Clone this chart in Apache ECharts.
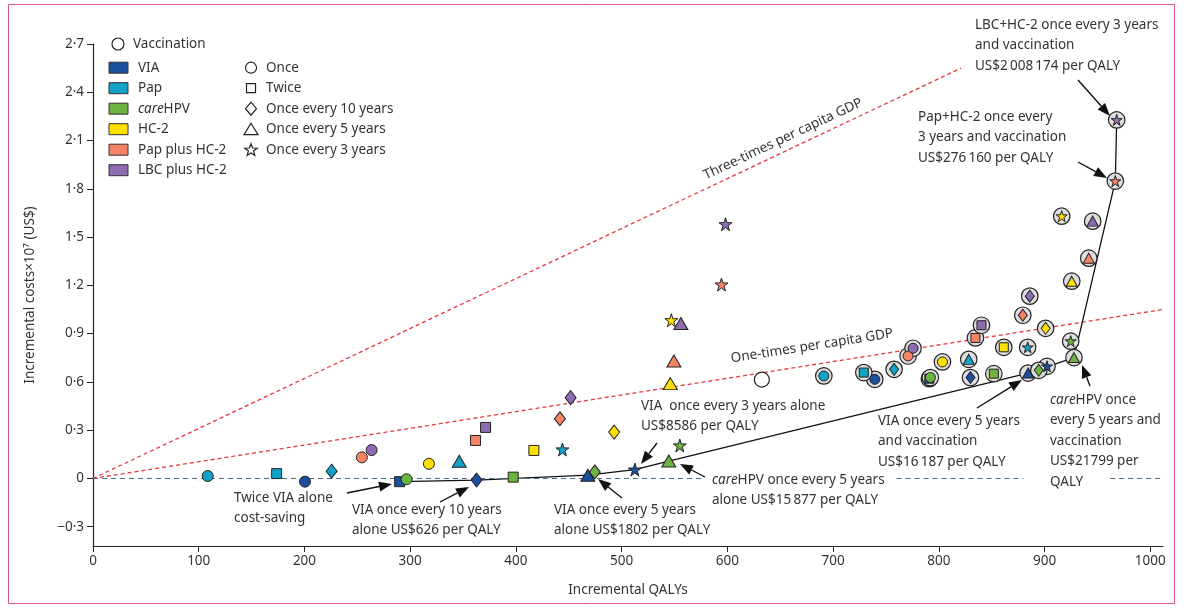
<!DOCTYPE html>
<html><head><meta charset="utf-8">
<script src="https://cdn.jsdelivr.net/npm/echarts@6/dist/echarts.min.js"></script>
<style>html,body{margin:0;padding:0;background:#fff}#c{width:1184px;height:608px}</style>
</head><body><div id="c"></div>
<script>
// ---------- data ----------
const strategies = ['VIA','Pap','careHPV','HC-2','Pap plus HC-2','LBC plus HC-2'];
const strategyColors = ['#1c4f9c','#12a2c8','#6cb33f','#ffe100','#f58466','#8e6cb0'];
const frequencies = ['Once','Twice','Once every 10 years','Once every 5 years','Once every 3 years'];
const xTicks = [0,100,200,300,400,500,600,700,800,900,1000];
const yTicks = [-0.3,0,0.3,0.6,0.9,1.2,1.5,1.8,2.1,2.4,2.7];

// screening alone: [incremental QALYs, incremental cost x10^7 US$], one per frequency
const viaAlone   = [[200.5,-0.02],[290,-0.02],[362.8,-0.01],[468,0.02],[512.5,0.055]];
const papAlone   = [[108.5,0.015],[173.7,0.03],[225.7,0.045],[346.4,0.107],[444,0.18]];
const careAlone  = [[296.6,-0.005],[397.4,0.008],[474.6,0.04],[544.6,0.108],[555,0.205]];
const hc2Alone   = [[317.7,0.091],[417,0.174],[492.9,0.288],[546,0.589],[547,0.983]];
const papHcAlone = [[254.3,0.131],[361.8,0.236],[441.6,0.371],[549.4,0.73],[594.4,1.205]];
const lbcAlone   = [[263.5,0.176],[371.3,0.317],[451.7,0.502],[556,0.963],[598.2,1.58]];

// screening plus vaccination
const viaVacc   = [[739.4,0.616],[791.0,0.620],[829.9,0.627],[884.4,0.655],[902.3,0.697]];
const papVacc   = [[691.2,0.637],[729,0.658],[757.7,0.678],[828.3,0.74],[884,0.815]];
const careVacc  = [[792,0.627],[852,0.651],[894.5,0.672],[927.8,0.751],[924.7,0.853]];
const hc2Vacc   = [[803.4,0.724],[861.4,0.815],[901,0.933],[925.7,1.226],[916.2,1.63]];
const papHcVacc = [[770.9,0.761],[834.6,0.873],[879.4,1.014],[941.8,1.369],[966.9,1.848]];
const lbcVacc   = [[775.6,0.809],[840.3,0.952],[886,1.133],[945.5,1.599],[968.2,2.228]];

const vaccinationAlone = [632.6,0.614];

// willingness-to-pay reference lines (end points)
const oneTimesGdp   = [[0,0],[1012,1.05]];
const threeTimesGdp = [[0,0],[821,2.55]];
// visible pieces of the dashed zero line (QALY ranges)
const zeroLineSegments = [[0,576],[760,880],[962,1012]];

// ---------- build ----------
const aloneSets = [viaAlone,papAlone,careAlone,hc2Alone,papHcAlone,lbcAlone];
const vaccSets  = [viaVacc,papVacc,careVacc,hc2Vacc,papHcVacc,lbcVacc];
const STAR = 'path://M50 2 L61.2 36.3 L97.6 36.3 L68.2 57.6 L79.4 91.9 L50 70.7 L20.6 91.9 L31.8 57.6 L2.4 36.3 L38.8 36.3 Z';
const freqSymbols = ['circle','rect','diamond','triangle',STAR];
const aloneSizes = [11,10,[11,14],[14,12],13];
const innerSizes = [10,9,[9,12],[11,10],11];
const frontier = [viaAlone[1],viaAlone[2],viaAlone[3],viaAlone[4],careAlone[3],viaVacc[3],careVacc[3],papHcVacc[4],lbcVacc[4]];

const FONT = 'Noto Sans';
const TXT = '#333';
const series = [];

series.push({type:'line', name:'One-times per capita GDP', data:oneTimesGdp, symbol:'none', silent:true, z:1,
  lineStyle:{color:'#e8383d', width:1.3, type:[4,3]},
  markLine:{silent:true, symbol:'none', label:{show:false},
    lineStyle:{color:'#4d6e8a', width:1, type:[5,4]},
    data: zeroLineSegments.map(s=>[{coord:[s[0],0]},{coord:[s[1],0]}])}});
series.push({type:'line', name:'Three-times per capita GDP', data:threeTimesGdp, symbol:'none', silent:true, z:1,
  lineStyle:{color:'#e8383d', width:1.3, type:[4,3]}});
series.push({type:'line', name:'Frontier', data:frontier, symbol:'none', silent:true, z:2,
  lineStyle:{color:'#111', width:1.3}});

strategies.forEach((s,k)=>{
  series.push({type:'scatter', name:s+' alone', z:5,
    itemStyle:{color:strategyColors[k], borderColor:'#222', borderWidth:1, opacity:1},
    data: aloneSets[k].map((p,i)=>({value:p, symbol:freqSymbols[i], symbolSize:aloneSizes[i]}))});
});
series.push({type:'scatter', name:'Vaccination rings', z:6, symbol:'circle', symbolSize:16.5,
  itemStyle:{color:'#dedede', borderColor:'#222', borderWidth:1.2, opacity:1},
  data: vaccSets.flat()});
strategies.forEach((s,k)=>{
  series.push({type:'scatter', name:s+' and vaccination', z:7,
    itemStyle:{color:strategyColors[k], borderColor:'#222', borderWidth:1, opacity:1},
    data: vaccSets[k].map((p,i)=>({value:p, symbol:freqSymbols[i], symbolSize:innerSizes[i]}))});
});
series.push({type:'scatter', name:'Vaccination', z:7, symbol:'circle', symbolSize:15,
  itemStyle:{color:'#fff', borderColor:'#222', borderWidth:1.2, opacity:1},
  data:[vaccinationAlone]});

// ---------- graphics ----------
const g = [];
g.push({type:'rect', shape:{x:8.5,y:4.5,width:1166,height:599}, style:{fill:'none', stroke:'#d4587f', lineWidth:1}, silent:true, z:0});

function text(x, yc, str, size, extra){
  const lh = 20.5;
  g.push(Object.assign({type:'text', x:x, y:yc-lh/2, z:20, silent:true,
    style:{text:str, fontFamily:FONT, fontSize:size||13.5, fill:TXT, lineHeight:lh, verticalAlign:'top',
      rich:{i:{fontStyle:'italic', fontFamily:FONT, fontSize:size||13.5, fill:TXT, lineHeight:lh}}}}, extra||{}));
}
function arrow(x1,y1,x2,y2){
  const L=13, W=5;
  const dx=x2-x1, dy=y2-y1, len=Math.hypot(dx,dy), ux=dx/len, uy=dy/len;
  const bx=x2-ux*L, by=y2-uy*L, px=-uy, py=ux;
  g.push({type:'line', z:20, silent:true, shape:{x1:x1,y1:y1,x2:bx,y2:by}, style:{stroke:'#111', lineWidth:1.4}});
  g.push({type:'polygon', z:20, silent:true, shape:{points:[[x2,y2],[bx+px*W,by+py*W],[bx-px*W,by-py*W]]}, style:{fill:'#111'}});
}

// legend
g.push({type:'circle', shape:{cx:118,cy:44,r:6}, style:{fill:'#fff', stroke:'#222', lineWidth:1.2}, z:20});
text(133,44,'Vaccination',13.5);
const legY = [67.7,88.2,108.7,129.2,149.7,170.2];
strategies.forEach((s,k)=>{
  g.push({type:'rect', shape:{x:109,y:legY[k]-5.5,width:19,height:11}, style:{fill:strategyColors[k], stroke:'#333', lineWidth:1}, z:20});
  text(138,legY[k], k===2?'{i|care}HPV':s,13.5);
});
const sx=251;
g.push({type:'circle', shape:{cx:sx,cy:legY[0],r:5.5}, style:{fill:'#fff', stroke:'#222', lineWidth:1.2}, z:20});
g.push({type:'rect', shape:{x:sx-4.5,y:legY[1]-4.5,width:9,height:9}, style:{fill:'#fff', stroke:'#222', lineWidth:1.2}, z:20});
g.push({type:'polygon', shape:{points:[[sx,legY[2]-6.5],[sx+5.5,legY[2]],[sx,legY[2]+6.5],[sx-5.5,legY[2]]]}, style:{fill:'#fff', stroke:'#222', lineWidth:1.2}, z:20});
g.push({type:'polygon', shape:{points:[[sx,legY[3]-6],[sx+7,legY[3]+5.5],[sx-7,legY[3]+5.5]]}, style:{fill:'#fff', stroke:'#222', lineWidth:1.2}, z:20});
(function(){
  const pts=[], R=6.5, r=2.7, cy=legY[4]+0.5;
  for(let i=0;i<10;i++){ const a=-Math.PI/2+i*Math.PI/5, rr=i%2?r:R; pts.push([sx+rr*Math.cos(a), cy+rr*Math.sin(a)]); }
  g.push({type:'polygon', shape:{points:pts}, style:{fill:'#fff', stroke:'#222', lineWidth:1.2}, z:20});
})();
frequencies.forEach((f,i)=>text(266,legY[i],f,13.5));

// reference line labels
g.push({type:'text', x:783, y:139, rotation:25.2*Math.PI/180, z:20, silent:true,
  style:{text:'Three-times per capita GDP', fontFamily:FONT, fontSize:13.5, fill:TXT, align:'center', verticalAlign:'middle'}});
g.push({type:'text', x:812, y:346, rotation:8.9*Math.PI/180, z:20, silent:true,
  style:{text:'One-times per capita GDP', fontFamily:FONT, fontSize:13.5, fill:TXT, align:'center', verticalAlign:'middle'}});

// annotations
text(975,25,'LBC+HC-2 once every 3 years\nand vaccination\nUS$2\u2009008\u2009174 per QALY');
arrow(1078,80,1110,116);
text(918,117,'Pap+HC-2 once every\n3 years and vaccination\nUS$276\u2009160 per QALY');
arrow(1078,162,1107,178);
text(878,421,'VIA once every 5 years\nand vaccination\nUS$16\u2009187 per QALY');
arrow(977,408,1022,380);
text(1050,400,'{i|care}HPV once\nevery 5 years and\nvaccination\nUS$21799 per\nQALY');
arrow(1090,386,1082,365);
text(234,498,'Twice VIA alone\ncost-saving');
arrow(347,493,392,484);
text(352,510,'VIA once every 10 years\nalone US$626 per QALY');
arrow(440,502,469,487);
text(554,510,'VIA once every 5 years\nalone US$1802 per QALY');
arrow(622,498,598,479);
text(641,406,'VIA  once every 3 years alone\nUS$8586 per QALY');
arrow(657,443,641,464);
text(712,480,'{i|care}HPV once every 5 years\nalone US$15\u2009877 per QALY');
arrow(705,477,680,464);

const fmtY = v => (v<0?'\u2212':'') + String(Math.abs(Math.round(v*10)/10)).replace('.','·');
const fmtX = v => String(Math.round(v));

const chart = echarts.init(document.getElementById('c'), null, {renderer:'canvas'});
chart.setOption({
  animation:false,
  backgroundColor:'#fff',
  textStyle:{fontFamily:FONT},
  grid:{left:93, right:21, top:44, bottom:62, containLabel:false, outerBoundsMode:'none'},
  xAxis:{type:'value', min:0, max:1012,
    name:'Incremental QALYs', nameLocation:'middle', nameGap:37,
    nameTextStyle:{fontFamily:FONT, fontSize:13.5, color:TXT},
    axisLine:{show:true, onZero:false, lineStyle:{color:'#222', width:1.2}},
    axisTick:{show:true, length:6, customValues:xTicks, lineStyle:{color:'#222'}},
    axisLabel:{customValues:xTicks, formatter:fmtX, fontFamily:FONT, fontSize:13.5, color:TXT, margin:8},
    splitLine:{show:false}},
  yAxis:{type:'value', min:-0.42, max:2.7,
    name:'Incremental costs×10\u2077 (US$)', nameLocation:'middle', nameGap:56, nameRotate:90,
    nameTextStyle:{fontFamily:FONT, fontSize:13.5, color:TXT},
    axisLine:{show:true, onZero:false, lineStyle:{color:'#222', width:1.2}},
    axisTick:{show:true, length:6, customValues:yTicks, lineStyle:{color:'#222'}},
    axisLabel:{customValues:yTicks, formatter:fmtY, fontFamily:FONT, fontSize:13.5, color:TXT, margin:9},
    splitLine:{show:false}},
  series:series,
  graphic:g
});
</script></body></html>
